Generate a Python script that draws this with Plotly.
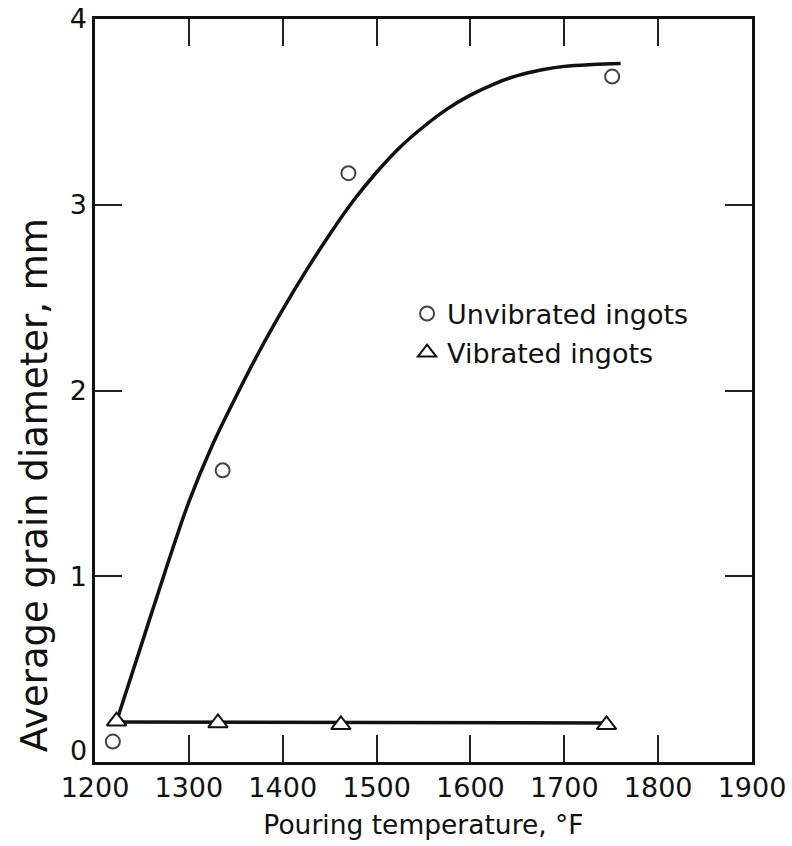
import plotly.graph_objects as go

# Measured data points
unvib_temp = [1219, 1336, 1470, 1751]
unvib_diam = [0.11, 1.57, 3.17, 3.69]

vib_temp = [1223, 1331, 1462, 1745]
vib_diam = [0.22, 0.21, 0.20, 0.20]

# Hand-drawn fitted curve for unvibrated ingots
curve_temp = [1225, 1250, 1275, 1300, 1325, 1350, 1375, 1400, 1425, 1450, 1475,
              1500, 1525, 1550, 1575, 1600, 1625, 1650, 1675, 1700, 1730, 1760]
curve_diam = [0.25, 0.64, 1.03, 1.40, 1.705, 1.965, 2.21, 2.435, 2.645, 2.84, 3.02,
              3.175, 3.31, 3.42, 3.515, 3.59, 3.65, 3.695, 3.725, 3.745, 3.755, 3.76]

# Vibrated fit line
vline_temp = [1223, 1745]
vline_diam = [0.215, 0.21]

x_ticks = [1200, 1300, 1400, 1500, 1600, 1700, 1800, 1900]
y_ticks = [0, 1, 2, 3, 4]
y_ticktext = ["", "1", "2", "3", "4"]   # "0" is placed as an annotation, nudged up

FONT = "DejaVu Sans"

fig = go.Figure()
fig.add_trace(go.Scatter(x=curve_temp, y=curve_diam, mode="lines",
                         line=dict(color="#111", width=3.5, shape="spline", smoothing=1),
                         showlegend=False, hoverinfo="skip"))
fig.add_trace(go.Scatter(x=vline_temp, y=vline_diam, mode="lines",
                         line=dict(color="#111", width=3.5),
                         showlegend=False, hoverinfo="skip"))
fig.add_trace(go.Scatter(x=unvib_temp, y=unvib_diam, mode="markers",
                         name="Unvibrated ingots", legendgroup="a",
                         marker=dict(symbol="circle", size=14, color="white",
                                     line=dict(color="#444", width=2))))
fig.add_trace(go.Scatter(x=vib_temp, y=vib_diam, mode="markers",
                         name="Vibrated ingots", legendgroup="b",
                         marker=dict(symbol="triangle-up", size=17, color="white",
                                     line=dict(color="#111", width=2))))

axis_common = dict(showline=True, linecolor="#111", linewidth=2.5, mirror="ticks",
                   ticks="inside", ticklen=27, tickwidth=1.5, tickcolor="#222",
                   showgrid=False, zeroline=False, automargin=False,
                   ticklabeloverflow="allow",
                   tickfont=dict(family=FONT, size=27, color="#111"))

fig.update_xaxes(range=[1200, 1900], tickvals=x_ticks,
                 ticktext=[str(v) for v in x_ticks],
                 title=dict(text="Pouring temperature, °F",
                            font=dict(family=FONT, size=26.5, color="#111"), standoff=14),
                 **axis_common)
fig.update_yaxes(range=[0, 4], tickvals=y_ticks, ticktext=y_ticktext,
                 **axis_common)

fig.add_annotation(text=str(y_ticks[0]), xref="paper", yref="y", x=0, y=y_ticks[0],
                   xanchor="right", yanchor="middle", xshift=-6, yshift=12,
                   showarrow=False, font=dict(family=FONT, size=27, color="#111"))
fig.add_annotation(text="Average grain diameter, mm", textangle=-90,
                   xref="paper", yref="y", x=-0.093, y=1.49,
                   xanchor="center", yanchor="middle", showarrow=False,
                   font=dict(family=FONT, size=37, color="#111"))

fig.update_layout(width=792, height=846,
                  margin=dict(l=95, r=40, t=19, b=84),
                  plot_bgcolor="white", paper_bgcolor="white",
                  legend=dict(x=0.475, y=0.636, xanchor="left", yanchor="top",
                              font=dict(family=FONT, size=27, color="#111"),
                              bgcolor="rgba(0,0,0,0)", tracegroupgap=1),
                  showlegend=True)

fig.write_html("out.html", config={"displayModeBar": False},
               post_script="document.body.style.margin='0';")
